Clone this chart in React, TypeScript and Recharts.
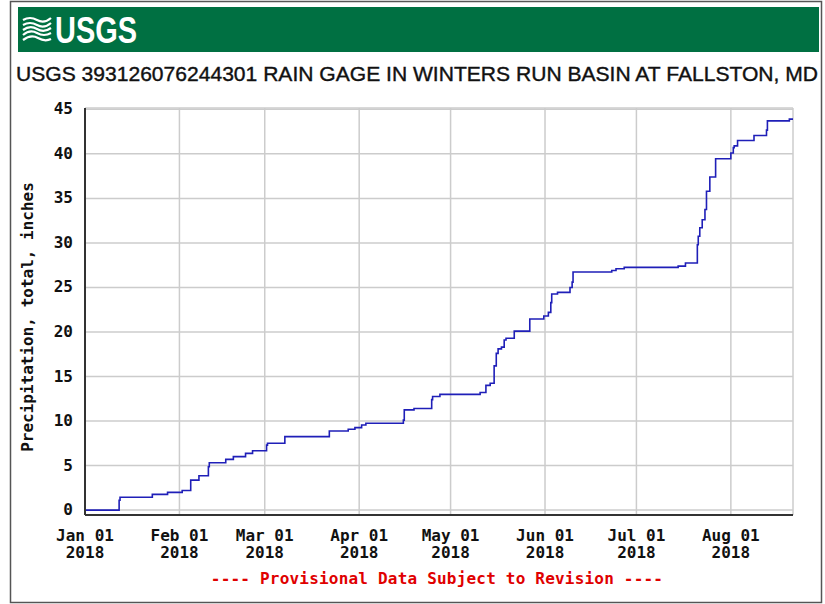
import React from "react";
import {
  LineChart,
  Line,
  XAxis,
  YAxis,
  CartesianGrid,
} from "recharts";

// days since Jan 01 2018 where the cumulative total changes
const days = [
  0, 11.2, 11.5, 22.1, 27.1, 31.9, 34.7, 37.4, 40.5, 40.8, 46.2, 48.7, 52.7,
  55.0, 59.6, 59.9, 65.6, 80.2, 86.4, 88.6, 90.8, 92.2, 104.5, 104.8, 108.0,
  113.8, 114.1, 116.5, 129.7, 131.6, 133.0, 134.3, 135.0, 135.6, 136.7, 137.6,
  138.2, 140.9, 146.0, 150.6, 152.1, 152.9, 153.2, 155.1, 159.2, 159.9, 160.2,
  172.9, 174.3, 177.0, 194.7, 197.1, 201.0, 201.3, 201.8, 202.6, 203.5, 204.0,
  205.1, 207.0, 212.0, 212.8, 213.1, 214.2, 219.6, 223.7, 224.0, 231.2, 232.4,
];

// cumulative precipitation, inches
const precip = [
  0, 1.1, 1.45, 1.77, 1.99, 2.2, 3.37, 3.86, 4.87, 5.32, 5.7, 6.0, 6.37,
  6.67, 7.3, 7.5, 8.25, 8.89, 9.08, 9.26, 9.56, 9.75, 10.1, 11.25, 11.4,
  12.4, 12.75, 13.0, 13.2, 14.0, 14.25, 16.2, 17.6, 18.1, 18.3, 19.1,
  19.3, 20.1, 21.45, 21.8, 22.2, 23.3, 24.27, 24.45, 25.0, 25.6, 26.74,
  26.9, 27.1, 27.25, 27.4, 27.75, 29.8, 30.75, 31.7, 32.6, 33.75, 35.8,
  37.4, 39.45, 40.1, 40.7, 40.9, 41.5, 42.07, 42.67, 43.7, 43.9, 43.9,
];

const monthStarts = [0, 31, 59, 90, 120, 151, 181, 212];
const monthLabels = [
  "Jan 01",
  "Feb 01",
  "Mar 01",
  "Apr 01",
  "May 01",
  "Jun 01",
  "Jul 01",
  "Aug 01",
];
const yearLabel = "2018";
const yTicks = [0, 5, 10, 15, 20, 25, 30, 35, 40, 45];

const title =
  "USGS 393126076244301 RAIN GAGE IN WINTERS RUN BASIN AT FALLSTON, MD";
const yTitle = "Precipitation, total, inches";
const footer = "---- Provisional Data Subject to Revision ----";

const data = days.map((d, i) => ({ day: d, precip: precip[i] }));

const MONO = "'DejaVu Sans Mono', monospace";
const X_DOMAIN = [0, 232.4];
const Y_DOMAIN = [-0.55, 45.15];

// two-line date label under each month gridline
const XTick = ({ x, y, payload }: any) => {
  const i = monthStarts.indexOf(payload.value);
  return (
    <text x={x} y={y + 26} textAnchor="middle" fontFamily={MONO} fontWeight="bold" fontSize={16} fill="#111">
      <tspan x={x}>{monthLabels[i]}</tspan>
      <tspan x={x} dy={17}>
        {yearLabel}
      </tspan>
    </text>
  );
};

const YTick = ({ x, y, payload }: any) => (
  <text x={x} y={y + 5} textAnchor="end" fontFamily={MONO} fontWeight="bold" fontSize={16} fill="#111">
    {payload.value}
  </text>
);

const App = () => {
  return (
    <div style={{ position: "absolute", left: 0, top: 0, width: 825, height: 604, background: "#fff" }}>
      {/* frame, header, titles */}
      <svg width={825} height={604} style={{ position: "absolute", left: 0, top: 0 }}>
        <rect x={10.5} y={1.5} width={811} height={601} fill="none" stroke="#555" strokeWidth={1.5} />
        <rect x={18} y={7} width={801} height={45} fill="#007042" />
        <g stroke="#fff" strokeWidth={2.2} fill="none">
          <path d="M23 20 q7 -4 14 0 t14 -2" />
          <path d="M23 25 q7 -4 14 0 t14 -2" />
          <path d="M23 30 q7 -5 14 -1 t14 -1" />
          <path d="M23 35 q7 -6 14 -2 t14 0" />
          <path d="M23 40 q8 -6 15 -2 t13 1" />
        </g>
        <text
          x={55}
          y={43}
          fontFamily="'Liberation Sans', Arial, sans-serif"
          fontWeight="bold"
          fontSize={36}
          fill="#fff"
          textLength={82}
          lengthAdjust="spacingAndGlyphs"
        >
          USGS
        </text>
        <text
          x={16}
          y={81}
          fontFamily="'Liberation Sans', Arial, sans-serif"
          fontSize={21}
          fill="#111"
          stroke="#111"
          strokeWidth={0.4}
          textLength={802}
          lengthAdjust="spacingAndGlyphs"
        >
          {title}
        </text>
        <text
          x={0}
          y={0}
          transform="translate(33 317) rotate(-90)"
          textAnchor="middle"
          fontFamily={MONO}
          fontWeight="bold"
          fontSize={16}
          fill="#111"
        >
          {yTitle}
        </text>
        <text
          x={437}
          y={584}
          textAnchor="middle"
          fontFamily={MONO}
          fontWeight="bold"
          fontSize={16}
          letterSpacing={0.2}
          fill="#e00000"
        >
          {footer}
        </text>
      </svg>

      {/* chart */}
      <div style={{ position: "absolute", left: 0, top: 0 }}>
        <LineChart
          width={825}
          height={604}
          data={data}
          margin={{ top: 108, right: 32, bottom: 29, left: 10 }}
        >
          <CartesianGrid stroke="#cccccc" strokeWidth={1.5} />
          <XAxis
            dataKey="day"
            type="number"
            domain={X_DOMAIN}
            ticks={monthStarts}
            interval={0}
            tick={<XTick />}
            tickLine={false}
            tickSize={0}
            tickMargin={0}
            height={60}
            axisLine={{ stroke: "#333", strokeWidth: 2 }}
            allowDataOverflow
          />
          <XAxis
            xAxisId="top"
            orientation="top"
            dataKey="day"
            type="number"
            domain={X_DOMAIN}
            tick={false}
            tickLine={false}
            height={0}
            axisLine={{ stroke: "#333", strokeWidth: 2 }}
            allowDataOverflow
          />
          <YAxis
            type="number"
            domain={Y_DOMAIN}
            ticks={yTicks}
            interval={0}
            tick={<YTick />}
            tickLine={false}
            tickSize={0}
            tickMargin={12}
            width={75}
            axisLine={{ stroke: "#333", strokeWidth: 2 }}
            allowDataOverflow
          />
          <YAxis
            yAxisId="right"
            orientation="right"
            type="number"
            domain={Y_DOMAIN}
            tick={false}
            tickLine={false}
            width={0}
            axisLine={{ stroke: "#333", strokeWidth: 2 }}
            allowDataOverflow
          />
          <Line
            type="stepAfter"
            dataKey="precip"
            stroke="#1f1fb8"
            strokeWidth={1.6}
            dot={false}
            isAnimationActive={false}
          />
        </LineChart>
      </div>
    </div>
  );
};

export default App;
